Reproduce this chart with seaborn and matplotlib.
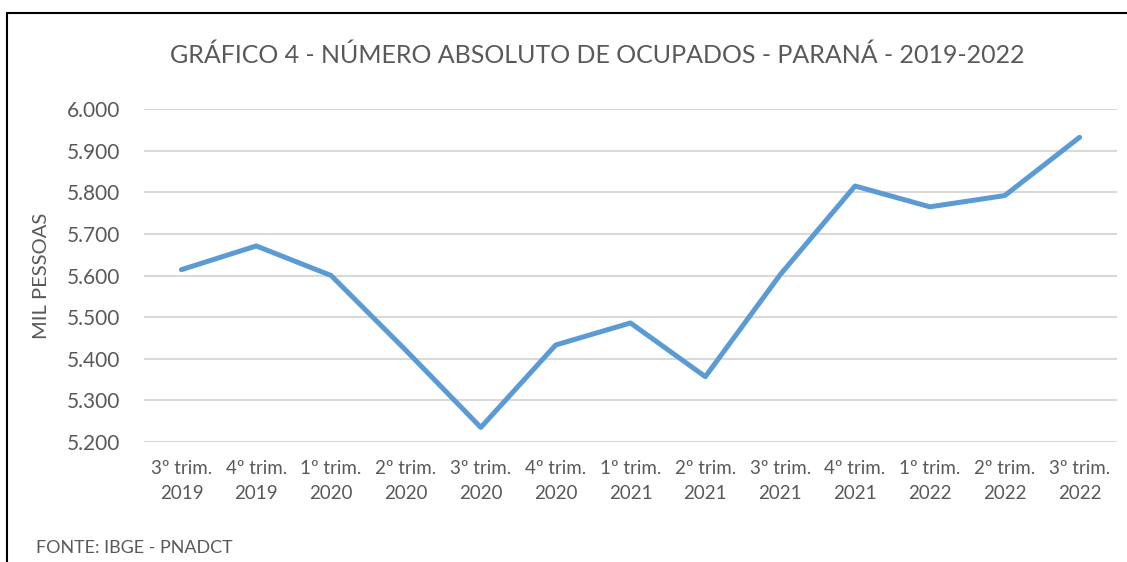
import matplotlib
matplotlib.use('Agg')
import matplotlib.pyplot as plt
import seaborn as sns
import pandas as pd
from matplotlib.ticker import FuncFormatter
from matplotlib.patches import Rectangle

trimestres = ['3º trim.\n2019', '4º trim.\n2019', '1º trim.\n2020', '2º trim.\n2020',
              '3º trim.\n2020', '4º trim.\n2020', '1º trim.\n2021', '2º trim.\n2021',
              '3º trim.\n2021', '4º trim.\n2021', '1º trim.\n2022', '2º trim.\n2022',
              '3º trim.\n2022']
ocupados = [5614, 5671, 5600, 5420, 5235, 5433, 5486, 5357, 5602, 5815, 5765, 5792, 5932]
y_ticks = [5200, 5300, 5400, 5500, 5600, 5700, 5800, 5900, 6000]

titulo = 'GRÁFICO 4 - NÚMERO ABSOLUTO DE OCUPADOS - PARANÁ - 2019-2022'
fonte = 'FONTE: IBGE - PNADCT'

sns.set_style('white')
plt.rcParams['font.family'] = ['Lato', 'DejaVu Sans']
cinza = '#595959'

df = pd.DataFrame({'pos': range(len(trimestres)), 'Ocupados': ocupados})

fig = plt.figure(figsize=(11.27, 5.62), dpi=100)
ax = fig.add_axes([144 / 1127, 120 / 562, 973 / 1127, 333 / 562])

sns.lineplot(data=df, x='pos', y='Ocupados', ax=ax, color='#5b9bd5',
             linewidth=3.6, solid_capstyle='round', solid_joinstyle='round')

ax.set_xlim(-0.5, len(trimestres) - 0.5)
ax.set_ylim(5200, 6000)
ax.set_yticks(y_ticks)
ax.yaxis.set_major_formatter(FuncFormatter(lambda v, p: f'{int(v):,}'.replace(',', '.')))
ax.set_xticks(range(len(trimestres)))
ax.set_xticklabels(trimestres, linespacing=1.55)
ax.grid(axis='y', color='#d9d9d9', linewidth=1.5)
ax.set_axisbelow(True)
for s in ax.spines.values():
    s.set_visible(False)
ax.tick_params(axis='y', length=0, pad=17, labelsize=15, labelcolor=cinza)
ax.tick_params(axis='x', length=0, pad=13, labelsize=13.5, labelcolor=cinza)

ax.set_xlabel('')
ax.set_ylabel('MIL PESSOAS', fontsize=14.5, color=cinza)
ax.yaxis.set_label_coords(-0.097, 0.5)

fig.text(597 / 1127, 1 - 55 / 562, titulo, ha='center', va='center', fontsize=18, color=cinza)
fig.text(36 / 1127, 1 - 548 / 562, fonte, ha='left', va='center', fontsize=12.9, color=cinza)

fig.patches.append(Rectangle((7 / 1127, -0.2), 1.2, 1.2 - 13 / 562,
                             transform=fig.transFigure, fill=False, edgecolor='black',
                             linewidth=1.5))

fig.savefig('out.png', dpi=100)
